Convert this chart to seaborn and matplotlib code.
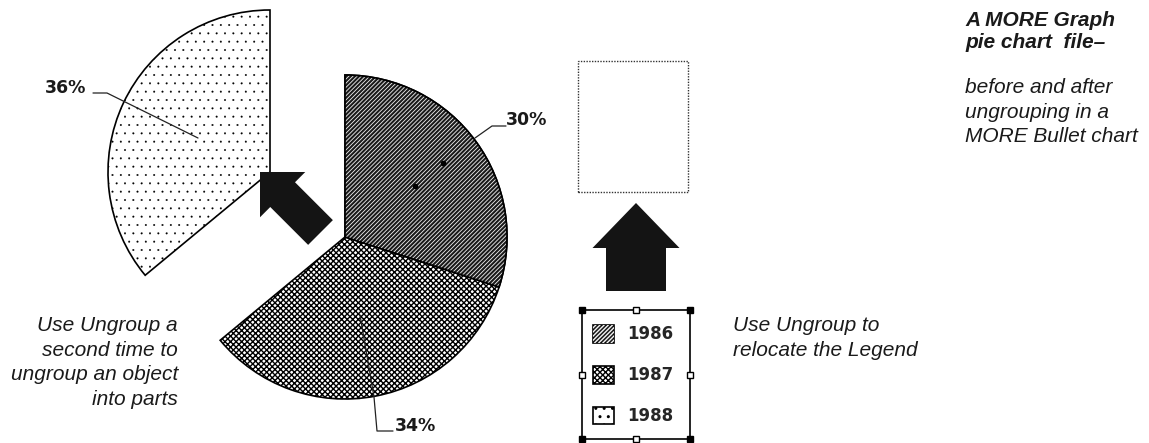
import numpy as np
import seaborn as sns
import matplotlib.pyplot as plt
from matplotlib.patches import Rectangle, FancyArrow, Wedge

sns.set_theme(style='white')
plt.rcParams['font.family'] = ['Liberation Sans', 'DejaVu Sans']
plt.rcParams['hatch.linewidth'] = 1.0

years = ['1986', '1987', '1988']
shares = [30, 34, 36]
hatches = ['////////', 'xxxxxx', '..']

W, H = 1149, 443


def Y(y):
    # picture rows run downwards, the axes runs upwards
    return H - y


def hatch_lw(patch, lw):
    if hasattr(patch, 'set_hatch_linewidth'):
        patch.set_hatch_linewidth(lw)


fig = plt.figure(figsize=(W / 100, H / 100), dpi=100)
ax = fig.add_axes([0, 0, 1, 1])

# pie, then pull the 1988 slice out to the upper left
wedges, _ = ax.pie(shares, startangle=90, counterclock=False,
                   center=(345, Y(237)), radius=162,
                   wedgeprops=dict(edgecolor='black', linewidth=1.2, facecolor='white'))
wedges[2].set_center((270, Y(172)))

# 1986: dark slice with white stripes (white hatch laid over it)
wedges[0].set_facecolor('#1a1a1a')
w0 = wedges[0]
stripes = Wedge(w0.center, w0.r, w0.theta1, w0.theta2, facecolor='none',
                edgecolor='#f2f2f2', lw=0, hatch=hatches[0])
hatch_lw(stripes, 0.6)
ax.add_patch(stripes)
outline = Wedge(w0.center, w0.r, w0.theta1, w0.theta2, facecolor='none',
                edgecolor='black', lw=1.2)
ax.add_patch(outline)

wedges[1].set_hatch(hatches[1])
hatch_lw(wedges[1], 1.0)
wedges[2].set_hatch(hatches[2])
hatch_lw(wedges[2], 0.2)

ax.set_xlim(0, W)
ax.set_ylim(0, H)
ax.set_aspect('auto')
ax.axis('off')

lab = dict(fontsize=12.5, fontweight='bold', family='DejaVu Sans', color='#1a1a1a', va='center')
lw = 0.9
# 36% label
ax.text(45, Y(88), f'{shares[2]}%', ha='left', **lab)
ax.plot([93, 107, 198], [Y(93), Y(93), Y(138)], color='#222', lw=lw)
# 30% label
ax.text(506, Y(120), f'{shares[0]}%', ha='left', **lab)
ax.plot([506, 492, 475], [Y(126), Y(126), Y(138)], color='#222', lw=lw)
ax.plot([443, 415], [Y(163), Y(186)], ls='none', marker='o', ms=3, color='black')
# 34% label
ax.text(395, Y(426), f'{shares[1]}%', ha='left', **lab)
ax.plot([360, 374, 377, 393], [Y(315), Y(397), Y(431), Y(431)], color='#222', lw=lw)

# arrows
ax.add_patch(FancyArrow(320.5, Y(232.5), -60.5, 60.5, width=35, head_width=64,
                        head_length=32, length_includes_head=True,
                        color='#141414', lw=0))
ax.add_patch(FancyArrow(636, Y(291), 0, 88, width=60, head_width=87,
                        head_length=45, length_includes_head=True,
                        color='#141414', lw=0))

# empty dotted frame where the legend goes
ax.add_patch(Rectangle((578, Y(192)), 110, 131, fill=False,
                       edgecolor='#333', lw=1, linestyle=(0, (1, 1))))

# selected legend with its handles
bx0, bx1, by0, by1 = 582, 690, 310, 439
ax.add_patch(Rectangle((bx0, Y(by1)), bx1 - bx0, by1 - by0, fill=False,
                       edgecolor='black', lw=1.2))
for cx in (bx0, bx1):
    for cy in (by0, by1):
        ax.plot(cx, Y(cy), marker='s', ms=4, color='black')
mx, my = (bx0 + bx1) / 2, (by0 + by1) / 2
for cx, cy in [(mx, by0), (mx, by1), (bx0, my), (bx1, my)]:
    ax.plot(cx, Y(cy), marker='s', ms=4, mfc='white', mec='black', mew=1)

ax.legend([(wedges[0], stripes), wedges[1], wedges[2]], years, loc='upper left',
          bbox_to_anchor=(593, Y(325)), bbox_transform=ax.transData,
          frameon=False, borderpad=0, borderaxespad=0,
          handlelength=1.25, handleheight=1.25, labelspacing=1.35,
          handletextpad=0.8,
          prop=dict(weight='bold', size=12, family='DejaVu Sans'))

# captions
cap = dict(fontsize=15, style='italic', color='#1a1a1a')
ax.text(178, Y(316), 'Use Ungroup a\nsecond time to\nungroup an object\ninto parts',
        ha='right', va='top', linespacing=1.38, **cap)
ax.text(733, Y(316), 'Use Ungroup to\nrelocate the Legend', ha='left', va='top',
        linespacing=1.38, **cap)
ax.text(965, Y(11), 'A MORE Graph\npie chart  file\u2013', ha='left', va='top',
        fontweight='bold', linespacing=1.2, **cap)
ax.text(965, Y(78), 'before and after\nungrouping in a\nMORE Bullet chart',
        ha='left', va='top', linespacing=1.38, **cap)

fig.savefig('out.png', dpi=100)
